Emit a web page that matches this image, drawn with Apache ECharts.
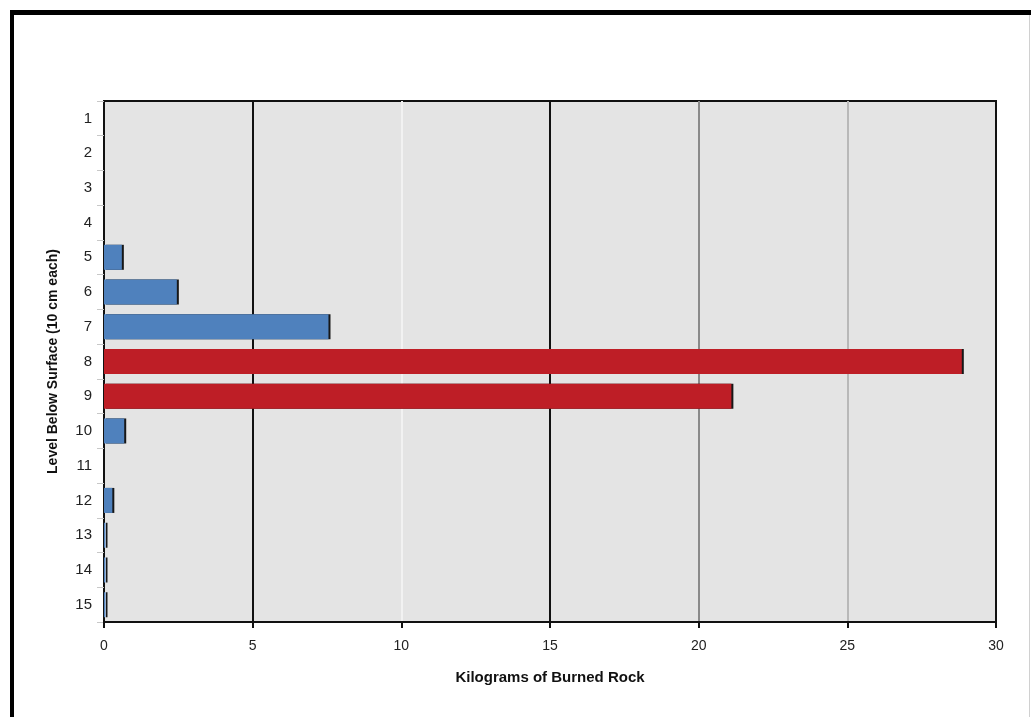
<!DOCTYPE html>
<html>
<head>
<meta charset="utf-8">
<script src="https://cdn.jsdelivr.net/npm/echarts@6/dist/echarts.min.js"></script>
<style>
html, body { margin: 0; padding: 0; background: #fff; }
#chart { width: 1031px; height: 717px; }
</style>
</head>
<body>
<div id="chart"></div>
<script>
// levels below surface (10 cm each)
var levels = ['1','2','3','4','5','6','7','8','9','10','11','12','13','14','15'];
// kg of burned rock, '-' = none
var blueKg = ['-','-','-','-',0.6,2.45,7.55,'-','-',0.68,'-',0.28,0.05,0.05,0.05];
var redKg  = ['-','-','-','-','-','-','-',28.85,21.1,'-','-','-','-','-','-'];
var xTicks = [0, 5, 10, 15, 20, 25, 30];

var chart = echarts.init(document.getElementById('chart'));

var barShadow = { shadowColor: 'rgba(0,0,0,0.9)', shadowOffsetX: 2, shadowOffsetY: 0, shadowBlur: 0 };

chart.setOption({
	backgroundColor: '#fff',
	textStyle: { fontFamily: 'Liberation Sans, Arial, sans-serif' },
	grid: {
		left: 104, right: 35, top: 101, bottom: 95,
		show: true, backgroundColor: '#e4e4e4', borderColor: '#111', borderWidth: 2
	},
	xAxis: {
		type: 'value',
		min: xTicks[0], max: xTicks[xTicks.length - 1], interval: 5,
		name: 'Kilograms of Burned Rock',
		nameLocation: 'middle', nameGap: 48,
		nameTextStyle: { fontSize: 15, fontWeight: 'bold', color: '#111' },
		axisLine: { show: true, lineStyle: { color: '#111', width: 2 } },
		axisTick: { show: true, length: 6, lineStyle: { color: '#111', width: 2 } },
		axisLabel: { fontSize: 14, color: '#222', margin: 17 },
		splitLine: {
			show: true,
			lineStyle: { width: 2, color: ['#111', '#111', '#f2f2f2', '#111', '#8a8a8a', '#b8b8b8', '#111'] }
		}
	},
	yAxis: {
		type: 'category',
		data: levels,
		inverse: true,
		name: 'Level Below Surface (10 cm each)',
		nameLocation: 'middle', nameGap: 44, nameRotate: 90,
		nameTextStyle: { fontSize: 14, fontWeight: 'bold', color: '#111' },
		axisLine: { show: true, lineStyle: { color: '#111', width: 2 } },
		axisTick: { show: true, length: 7, lineStyle: { color: '#c8c8c8', width: 1 } },
		axisLabel: { fontSize: 15, color: '#222', margin: 12 },
		splitLine: { show: false }
	},
	series: [
		{
			name: 'blue', type: 'bar', stack: 'kg', data: blueKg,
			barWidth: '72%',
			itemStyle: Object.assign({ color: '#4f81bd' }, barShadow)
		},
		{
			name: 'red', type: 'bar', stack: 'kg', data: redKg,
			barWidth: '72%',
			itemStyle: Object.assign({ color: '#be1e26' }, barShadow)
		}
	],
	graphic: [
		{ type: 'line', shape: { x1: 10, y1: 12.5, x2: 1031, y2: 12.5 }, style: { stroke: '#000', lineWidth: 5 } },
		{ type: 'line', shape: { x1: 12, y1: 10, x2: 12, y2: 717 }, style: { stroke: '#000', lineWidth: 4 } },
		{ type: 'line', shape: { x1: 1029.5, y1: 15, x2: 1029.5, y2: 717 }, style: { stroke: '#d0d0d0', lineWidth: 1 } }
	]
});
</script>
</body>
</html>
